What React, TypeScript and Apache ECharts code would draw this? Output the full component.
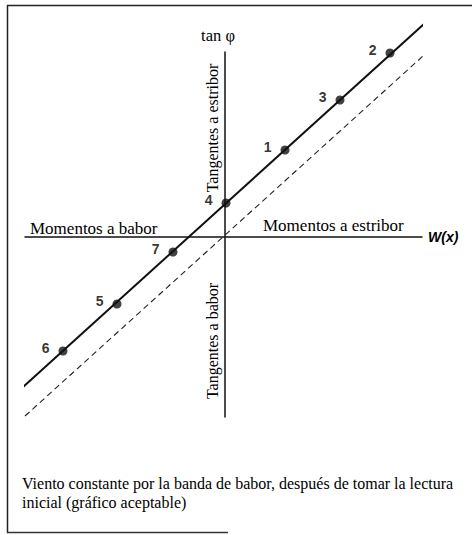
import React, { useEffect, useRef } from "react";
import * as echarts from "echarts";

// Readings (moment W(x), tan φ) in arbitrary chart units
const pointLabels = ["1", "2", "3", "4", "5", "6", "7"];
const momentX = [3.0, 8.25, 5.75, 0.05, -5.4, -8.1, -2.6];
const tanPhi = [4.35, 9.2, 6.85, 1.7, -3.35, -5.7, -0.75];

// Fitted line through the readings (solid) and the reference line through the origin (dashed)
const fitLineX = [-10.1, 9.95];
const fitLineY = [-7.5, 10.65];
const refLineX = [-10.0, 10.4];
const refLineY = [-8.95, 9.5];

const serif = "'Liberation Serif', 'Times New Roman', serif";
const sans = "'Liberation Sans', Arial, sans-serif";

export default function App() {
  const ref = useRef<HTMLDivElement>(null);
  useEffect(() => {
    if (!ref.current) return;
    const chart = echarts.init(ref.current, null, { renderer: "svg" });
    const pts = momentX.map((x, i) => ({ value: [x, tanPhi[i]], name: pointLabels[i] }));
    chart.setOption({
      animation: false,
      backgroundColor: "#fff",
      grid: { left: 25, top: 52, width: 397, height: 365 },
      xAxis: {
        type: "value",
        min: -10,
        max: 9.85,
        name: "W(x)",
        nameLocation: "end",
        nameGap: 6,
        nameTextStyle: { fontFamily: sans, fontStyle: "italic", fontWeight: "bold", fontSize: 14, color: "#000" },
        axisLine: { onZero: true, lineStyle: { color: "#111", width: 1.5 } },
        axisTick: { show: false },
        axisLabel: { show: false },
        splitLine: { show: false },
      },
      yAxis: {
        type: "value",
        min: -9,
        max: 9.25,
        name: "tan φ",
        nameLocation: "end",
        nameGap: 8,
        nameTextStyle: { fontFamily: serif, fontSize: 16.5, color: "#000", padding: [0, 14, 0, 0] },
        axisLine: { onZero: true, lineStyle: { color: "#111", width: 1.5 } },
        axisTick: { show: false },
        axisLabel: { show: false },
        splitLine: { show: false },
      },
      series: [
        {
          type: "line",
          data: refLineX.map((x, i) => [x, refLineY[i]]),
          symbol: "none",
          clip: false,
          lineStyle: { color: "#222", width: 1.1, type: [6, 4] },
          silent: true,
        },
        {
          type: "line",
          data: fitLineX.map((x, i) => [x, fitLineY[i]]),
          symbol: "none",
          clip: false,
          lineStyle: { color: "#111", width: 2 },
          silent: true,
        },
        {
          type: "scatter",
          data: pts,
          symbol: "circle",
          symbolSize: 9,
          clip: false,
          itemStyle: { color: "#111" },
          label: {
            show: true,
            formatter: "{b}",
            position: "left",
            distance: 9,
            offset: [0, -3],
            fontFamily: sans,
            fontWeight: "bold",
            fontSize: 14,
            color: "#000",
          },
        },
      ],
      graphic: [
        { type: "line", shape: { x1: 7, y1: 5.5, x2: 472, y2: 5.5 }, style: { stroke: "#222", lineWidth: 1.5 } },
        { type: "line", shape: { x1: 7.5, y1: 5, x2: 7.5, y2: 533 }, style: { stroke: "#222", lineWidth: 1.5 } },
        { type: "line", shape: { x1: 7, y1: 532.5, x2: 228, y2: 532.5 }, style: { stroke: "#333", lineWidth: 1.5 } },
        {
          type: "text",
          x: 30,
          y: 228,
          style: { text: "Momentos a babor", font: `17px ${serif}`, fill: "#000", textVerticalAlign: "middle" },
        },
        {
          type: "text",
          x: 263,
          y: 225,
          style: { text: "Momentos a estribor", font: `17px ${serif}`, fill: "#000", textVerticalAlign: "middle" },
        },
        {
          type: "text",
          x: 212,
          y: 128,
          rotation: Math.PI / 2,
          style: {
            text: "Tangentes a estribor",
            font: `16px ${serif}`,
            fill: "#000",
            textAlign: "center",
            textVerticalAlign: "middle",
          },
        },
        {
          type: "text",
          x: 212,
          y: 341,
          rotation: Math.PI / 2,
          style: {
            text: "Tangentes a babor",
            font: `16px ${serif}`,
            fill: "#000",
            textAlign: "center",
            textVerticalAlign: "middle",
          },
        },
        {
          type: "text",
          x: 22,
          y: 483,
          style: {
            text: "Viento constante por la banda de babor, después de tomar la lectura",
            font: `16px ${serif}`,
            fill: "#000",
            textVerticalAlign: "middle",
          },
        },
        {
          type: "text",
          x: 22,
          y: 502,
          style: {
            text: "inicial (gráfico aceptable)",
            font: `16px ${serif}`,
            fill: "#000",
            textVerticalAlign: "middle",
          },
        },
      ],
    });
    return () => chart.dispose();
  }, []);
  return (
    <div
      ref={ref}
      style={{ position: "fixed", left: 0, top: 0, width: 472, height: 535 }}
    />
  );
}
